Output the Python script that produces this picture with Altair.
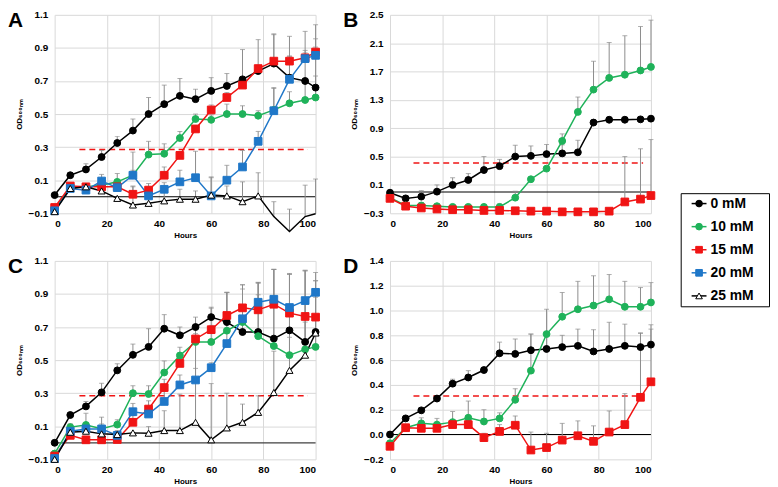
import altair as alt
import pandas as pd

hours = [0, 6, 12, 18, 24, 30, 36, 42, 48, 54, 60, 66, 72, 78, 84, 90, 96, 100]
concs = ["0 mM", "10 mM", "15 mM", "20 mM", "25 mM"]
line_colors = ["#000000", "#1fb25a", "#f01414", "#1f77c8", "#000000"]
fill_colors = ["#000000", "#1fb25a", "#f01414", "#1f77c8", "#ffffff"]
shapes = ["circle", "circle", "square", "square", "triangle-up"]

# Panel A
a_0 = [0.01, 0.13, 0.165, 0.24, 0.325, 0.40, 0.50, 0.56, 0.61, 0.59, 0.64, 0.67, 0.71, 0.76, 0.805, 0.72, 0.70, 0.66]
a_0_err = [0, 0.01, 0.035, 0.04, 0.04, 0.07, 0.10, 0.115, 0.105, 0.06, 0.08, 0.075, 0.18, 0.19, 0.18, 0.25, 0.30, 0.38]
a_10 = [-0.07, 0.055, 0.06, 0.07, 0.09, 0.13, 0.255, 0.26, 0.355, 0.47, 0.465, 0.50, 0.50, 0.49, 0.525, 0.565, 0.585, 0.60]
a_10_err = [0, 0.01, 0.02, 0.03, 0.05, 0.03, 0.08, 0.06, 0.04, 0.03, 0.03, 0.06, 0.05, 0.03, 0.13, 0.07, 0.10, 0.13]
a_15 = [-0.065, 0.065, 0.06, 0.06, 0.06, 0.015, 0.04, 0.13, 0.25, 0.41, 0.525, 0.60, 0.675, 0.775, 0.82, 0.82, 0.84, 0.875]
a_15_err = [0, 0.01, 0.01, 0.02, 0.04, 0.05, 0.04, 0.05, 0.01, 0.02, 0.03, 0.03, 0.03, 0.02, 0.16, 0.03, 0.03, 0.03]
a_20 = [-0.085, 0.05, 0.04, 0.095, 0.055, 0.13, 0.005, 0.045, 0.09, 0.115, 0.005, 0.10, 0.18, 0.335, 0.52, 0.71, 0.835, 0.855]
a_20_err = [0, 0.01, 0.02, 0.04, 0.04, 0.14, 0.04, 0.04, 0.07, 0.16, 0.11, 0.09, 0.10, 0.06, 0.14, 0.14, 0.05, 0.10]
a_25 = [-0.09, 0.05, 0.06, 0.035, -0.01, -0.05, -0.04, -0.025, -0.015, -0.015, 0.01, 0.005, -0.03, 0.005, -0.12, -0.21, -0.12, -0.103]
a_25_err = [0, 0, 0, 0, 0, 0.11, 0.10, 0.05, 0.06, 0.05, 0.11, 0.06, 0.12, 0.14, 0.09, 0.135, 0.19, 0.21]

# Panel B
b_0 = [-0.01, -0.09, -0.065, 0.005, 0.10, 0.17, 0.31, 0.365, 0.50, 0.51, 0.535, 0.545, 0.56, 0.98, 1.02, 1.02, 1.025, 1.035]
b_0_err = [0, 0.04, 0.085, 0.095, 0.10, 0.09, 0.19, 0.095, 0.16, 0.14, 0.135, 0.12, 0.17, 0, 0, 0, 0, 0]
b_10 = [-0.08, -0.19, -0.19, -0.20, -0.21, -0.21, -0.21, -0.21, -0.08, 0.18, 0.33, 0.72, 1.13, 1.445, 1.61, 1.655, 1.715, 1.765]
b_10_err = [0, 0.03, 0.04, 0.03, 0.03, 0.03, 0.03, 0.04, 0.09, 0, 0, 0.10, 0.21, 0.40, 0.50, 0.55, 0.62, 0.66]
b_15 = [-0.09, -0.20, -0.225, -0.24, -0.25, -0.25, -0.26, -0.26, -0.265, -0.27, -0.27, -0.28, -0.28, -0.28, -0.27, -0.14, -0.10, -0.05]
b_15_err = [0, 0, 0, 0, 0, 0, 0, 0, 0, 0, 0, 0, 0, 0, 0, 0.64, 0.71, 0.79]

# Panel C
c_0 = [0.0, 0.168, 0.22, 0.305, 0.438, 0.532, 0.58, 0.69, 0.65, 0.70, 0.76, 0.73, 0.67, 0.67, 0.63, 0.68, 0.61, 0.67]
c_0_err = [0, 0.01, 0.03, 0.055, 0.04, 0.065, 0.11, 0.085, 0.05, 0.06, 0.06, 0.18, 0.285, 0.30, 0.42, 0.34, 0.43, 0.36]
c_10 = [-0.065, 0.095, 0.108, 0.085, 0.11, 0.30, 0.295, 0.425, 0.528, 0.61, 0.61, 0.678, 0.73, 0.645, 0.585, 0.53, 0.565, 0.58]
c_10_err = [0, 0.02, 0.07, 0.07, 0.03, 0.045, 0.05, 0.07, 0.05, 0.05, 0.10, 0.23, 0.20, 0.25, 0.30, 0.30, 0.30, 0.30]
c_15 = [-0.08, 0.045, 0.018, 0.018, 0.02, 0.124, 0.204, 0.334, 0.48, 0.628, 0.684, 0.77, 0.816, 0.804, 0.838, 0.784, 0.764, 0.76]
c_15_err = [0, 0.01, 0.02, 0.03, 0.03, 0.04, 0.05, 0.05, 0.06, 0.06, 0.13, 0.14, 0.14, 0.16, 0.21, 0.24, 0.28, 0.22]
c_20 = [-0.095, 0.07, 0.084, 0.084, 0.045, 0.188, 0.174, 0.25, 0.35, 0.38, 0.454, 0.60, 0.75, 0.85, 0.868, 0.818, 0.86, 0.91]
c_20_err = [0, 0.01, 0.02, 0.03, 0.03, 0.05, 0.05, 0.06, 0.06, 0.07, 0.03, 0.07, 0.06, 0.12, 0.18, 0.20, 0.18, 0.07]
c_25 = [-0.1, 0.064, 0.07, 0.054, 0.05, 0.06, 0.058, 0.074, 0.074, 0.124, 0.018, 0.09, 0.124, 0.184, 0.304, 0.438, 0.53, 0.664]
c_25_err = [0, 0, 0, 0, 0, 0, 0.04, 0.12, 0.22, 0.48, 0.34, 0.21, 0.11, 0.10, 0.25, 0.20, 0.20, 0.10]

# Panel D
d_0 = [0.0, 0.13, 0.195, 0.29, 0.41, 0.46, 0.52, 0.655, 0.65, 0.68, 0.69, 0.705, 0.715, 0.67, 0.69, 0.715, 0.705, 0.725]
d_0_err = [0, 0.01, 0.01, 0.01, 0.035, 0.055, 0.02, 0.09, 0.12, 0.13, 0.12, 0.095, 0.135, 0.175, 0.215, 0.175, 0.115, 0.125]
d_10 = [-0.07, 0.055, 0.09, 0.08, 0.10, 0.135, 0.105, 0.13, 0.28, 0.515, 0.81, 0.95, 1.01, 1.04, 1.09, 1.03, 1.03, 1.065]
d_10_err = [0, 0.02, 0.045, 0.05, 0.085, 0.135, 0.095, 0.045, 0.09, 0.295, 0.20, 0.195, 0.225, 0.24, 0.20, 0.205, 0.155, 0.16]
d_15 = [-0.095, 0.055, 0.05, 0.05, 0.08, 0.08, -0.025, 0.025, 0.075, -0.125, -0.105, -0.045, -0.01, -0.055, 0.02, 0.08, 0.30, 0.425]
d_15_err = [0, 0, 0, 0, 0, 0, 0.035, 0.055, 0.075, 0.145, 0.115, 0.135, 0.12, 0.125, 0.17, 0.25, 0.515, 0.46]

FONT = "Liberation Sans"
GRAY = "#8c8c8c"
xticks = [0, 20, 40, 60, 80, 100]


def panel(series, ydom, yticks, fmt, letter, dash, zero_color):
    rows = []
    for conc, vals, errs in series:
        for h, v, e in zip(hours, vals, errs):
            rows.append({"hour": h, "od": v, "top": v + e, "err": e, "conc": conc})
    df = pd.DataFrame(rows)
    lo = ydom[0] - 1e-9
    pts = df[df["od"] >= lo]
    errdf = df[df["err"] > 0]
    capdf = errdf.assign(od=errdf["top"])

    xs = alt.Scale(domain=[0, 100], nice=False)
    ys = alt.Scale(domain=ydom, nice=False, zero=False)
    x = alt.X("hour:Q", scale=xs, axis=alt.Axis(values=xticks, title="Hours"))
    y = alt.Y("od:Q", scale=ys, axis=alt.Axis(values=yticks, format=fmt, title="OD₆₀₀ₙₘ"))
    color = alt.Color("conc:N", scale=alt.Scale(domain=concs, range=line_colors), legend=None)

    zero = alt.Chart(pd.DataFrame({"od": [0.0]})).mark_rule(color=zero_color, strokeWidth=1.2).encode(y=y)
    dashdf = pd.DataFrame({"hour": [dash[0]], "hour2": [dash[1]], "od": [dash[2]]})
    dashed = alt.Chart(dashdf).mark_rule(color="#f01414", strokeDash=[6, 4], strokeWidth=1.5).encode(
        x=x, x2="hour2:Q", y=y)
    bars = alt.Chart(errdf).mark_rule(color=GRAY, strokeWidth=1).encode(x=x, y=y, y2="top:Q")
    caps = alt.Chart(capdf).mark_tick(color=GRAY, orient="horizontal", size=5, thickness=1).encode(x=x, y=y)
    lines = alt.Chart(df).mark_line(strokeWidth=1.5).encode(x=x, y=y, color=color, detail="conc:N")

    def pointlayer(sel, size):
        sub = pts[pts["conc"].isin(sel)]
        return alt.Chart(sub).mark_point(filled=True, opacity=1, strokeWidth=1, size=size).encode(
            x=x, y=y,
            shape=alt.Shape("conc:N", scale=alt.Scale(domain=concs, range=shapes), legend=None),
            fill=alt.Fill("conc:N", scale=alt.Scale(domain=concs, range=fill_colors), legend=None),
            stroke=alt.Stroke("conc:N", scale=alt.Scale(domain=concs, range=line_colors), legend=None),
        )

    layers = [zero, dashed, bars, caps, lines,
              pointlayer(["0 mM", "10 mM"], 48),
              pointlayer(["15 mM", "20 mM"], 60),
              pointlayer(["25 mM"], 50)]
    lab = alt.Chart(pd.DataFrame({"t": [letter]})).mark_text(
        font=FONT, fontSize=21, fontWeight="bold", align="left", baseline="top", color="black"
    ).encode(text="t:N", x=alt.value(-47), y=alt.value(-5))
    layers.append(lab)
    return alt.layer(*layers).properties(width=263, height=200)


A = panel([("0 mM", a_0, a_0_err), ("10 mM", a_10, a_10_err), ("15 mM", a_15, a_15_err),
           ("20 mM", a_20, a_20_err), ("25 mM", a_25, a_25_err)],
          [-0.1, 1.1], [-0.1, 0.1, 0.3, 0.5, 0.7, 0.9, 1.1], ".1f", "A", (9.5, 97, 0.285), "#000000")
B = panel([("0 mM", b_0, b_0_err), ("10 mM", b_10, b_10_err), ("15 mM", b_15, b_15_err)],
          [-0.3, 2.5], [-0.3, 0.1, 0.5, 0.9, 1.3, 1.7, 2.1, 2.5], ".1f", "B", (9, 97, 0.41), "#000000")
C = panel([("0 mM", c_0, c_0_err), ("10 mM", c_10, c_10_err), ("15 mM", c_15, c_15_err),
           ("20 mM", c_20, c_20_err), ("25 mM", c_25, c_25_err)],
          [-0.1, 1.1], [-0.1, 0.1, 0.3, 0.5, 0.7, 0.9, 1.1], ".1f", "C", (9.5, 97, 0.285), "#404040")
D = panel([("0 mM", d_0, d_0_err), ("10 mM", d_10, d_10_err), ("15 mM", d_15, d_15_err)],
          [-0.2, 1.4], [-0.2, 0.0, 0.2, 0.4, 0.6, 0.8, 1.0, 1.2, 1.4], ".1f", "D", (9, 97, 0.31), "#000000")

# Legend panel
legdf = pd.DataFrame({"conc": concs})
ly = alt.Y("conc:N", sort=concs, axis=None, scale=alt.Scale(type="point", domain=concs, padding=0.45))
lcol = alt.Color("conc:N", scale=alt.Scale(domain=concs, range=line_colors), legend=None)
leg_line = alt.Chart(legdf).mark_rule(strokeWidth=1.5).encode(
    y=ly, x=alt.value(11), x2=alt.value(26), color=lcol)
leg_pts = alt.Chart(legdf).mark_point(filled=True, opacity=1, strokeWidth=1, size=45).encode(
    y=ly, x=alt.value(18.5),
    shape=alt.Shape("conc:N", scale=alt.Scale(domain=concs, range=shapes), legend=None),
    fill=alt.Fill("conc:N", scale=alt.Scale(domain=concs, range=fill_colors), legend=None),
    stroke=alt.Stroke("conc:N", scale=alt.Scale(domain=concs, range=line_colors), legend=None),
)
leg_txt = alt.Chart(legdf).mark_text(font=FONT, fontSize=14, fontWeight="bold", align="left",
                                     baseline="middle", color="black").encode(
    y=ly, x=alt.value(30), text="conc:N")
legend = alt.layer(leg_line, leg_pts, leg_txt).properties(
    width=89, height=114, view=alt.ViewBackground(stroke="#000000", strokeWidth=1))

left = alt.vconcat(A, C, spacing=17)
right = alt.vconcat(B, D, spacing=17)
plots = alt.hconcat(left, right, spacing=22)
chart = alt.hconcat(plots, legend, spacing=23, center=True).properties(
    padding=0
).configure_view(strokeWidth=0).configure_axis(
    labelFont=FONT, labelFontWeight="bold", labelFontSize=10, labelColor="#000000",
    titleFont=FONT, titleFontWeight="bold", titleFontSize=8, titleColor="#000000",
    grid=True, gridColor="#d9d9d9", gridWidth=1, domain=False, ticks=False,
).configure_axisX(labelPadding=5, titlePadding=3).configure_axisY(labelPadding=7, titlePadding=5)

chart.save("out.html", embed_options={"renderer": "svg", "actions": False})
